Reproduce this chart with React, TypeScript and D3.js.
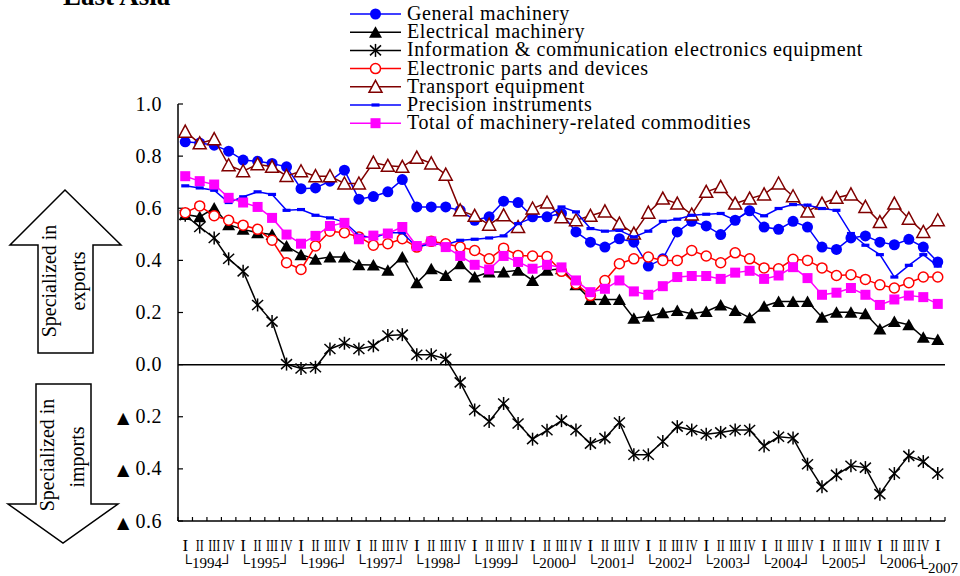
import React from "react";
import * as d3 from "d3";

const years = [1994, 1995, 1996, 1997, 1998, 1999, 2000, 2001, 2002, 2003, 2004, 2005, 2006, 2007];
const quarterLabels = ["I", "II", "III", "IV"];
const periods: { year: number; q: number }[] = years.flatMap((y) =>
  y === 2007 ? [{ year: y, q: 0 }] : quarterLabels.map((_, q) => ({ year: y, q }))
);

const generalMachinery = [0.855,0.85,0.842,0.819,0.785,0.78,0.772,0.759,0.675,0.678,0.704,0.746,0.635,0.645,0.663,0.71,0.605,0.605,0.605,0.592,0.554,0.567,0.627,0.622,0.567,0.567,0.58,0.509,0.47,0.451,0.483,0.47,0.378,0.406,0.509,0.55,0.532,0.499,0.554,0.59,0.528,0.519,0.55,0.528,0.451,0.442,0.486,0.494,0.47,0.46,0.481,0.451,0.394];
const electricalMachinery = [0.576,0.567,0.601,0.537,0.519,0.506,0.499,0.455,0.422,0.404,0.413,0.413,0.383,0.382,0.362,0.413,0.314,0.368,0.342,0.387,0.336,0.355,0.355,0.362,0.323,0.362,0.368,0.306,0.25,0.25,0.25,0.178,0.186,0.199,0.208,0.195,0.204,0.229,0.208,0.18,0.224,0.242,0.242,0.242,0.182,0.201,0.201,0.195,0.137,0.165,0.153,0.105,0.096];
const infoComm = [0.573,0.528,0.486,0.406,0.358,0.229,0.165,0.002,-0.015,-0.01,0.06,0.082,0.06,0.072,0.112,0.115,0.038,0.038,0.022,-0.068,-0.174,-0.218,-0.149,-0.226,-0.286,-0.252,-0.215,-0.251,-0.303,-0.282,-0.222,-0.346,-0.346,-0.295,-0.238,-0.251,-0.267,-0.26,-0.251,-0.251,-0.312,-0.277,-0.282,-0.382,-0.469,-0.423,-0.388,-0.395,-0.497,-0.418,-0.35,-0.372,-0.418];
const electronicParts = [0.583,0.609,0.571,0.554,0.535,0.519,0.477,0.391,0.365,0.455,0.512,0.506,0.49,0.458,0.464,0.483,0.451,0.473,0.464,0.451,0.438,0.406,0.447,0.419,0.417,0.415,0.358,0.31,0.265,0.323,0.387,0.406,0.413,0.4,0.4,0.438,0.417,0.391,0.429,0.406,0.371,0.368,0.404,0.4,0.371,0.342,0.345,0.327,0.306,0.294,0.314,0.336,0.336];
const transportEquipment = [0.894,0.849,0.865,0.765,0.742,0.769,0.759,0.724,0.742,0.723,0.723,0.695,0.695,0.775,0.763,0.759,0.794,0.772,0.729,0.592,0.571,0.537,0.573,0.528,0.599,0.622,0.565,0.554,0.571,0.588,0.541,0.503,0.583,0.637,0.618,0.576,0.663,0.682,0.618,0.637,0.653,0.695,0.646,0.588,0.618,0.64,0.653,0.605,0.547,0.618,0.56,0.509,0.554];
const precisionInstruments = [0.686,0.678,0.669,0.622,0.644,0.663,0.653,0.592,0.595,0.573,0.563,0.547,0.496,0.486,0.506,0.506,0.451,0.464,0.46,0.477,0.481,0.486,0.494,0.541,0.563,0.571,0.605,0.586,0.522,0.512,0.515,0.49,0.512,0.55,0.558,0.573,0.577,0.58,0.554,0.592,0.571,0.599,0.614,0.612,0.599,0.592,0.503,0.458,0.422,0.336,0.381,0.422,0.378];
const totalMachinery = [0.723,0.704,0.691,0.64,0.622,0.605,0.563,0.499,0.464,0.494,0.532,0.544,0.481,0.495,0.503,0.528,0.455,0.473,0.451,0.417,0.383,0.365,0.417,0.394,0.368,0.383,0.373,0.323,0.278,0.291,0.323,0.281,0.268,0.301,0.336,0.34,0.34,0.329,0.353,0.36,0.329,0.342,0.374,0.332,0.268,0.276,0.294,0.268,0.229,0.25,0.265,0.259,0.233];

const seriesNames = [
  "General machinery",
  "Electrical machinery",
  "Information & communication electronics equipment",
  "Electronic parts and devices",
  "Transport equipment",
  "Precision instruments",
  "Total of machinery-related commodities",
];
const seriesValues = [generalMachinery, electricalMachinery, infoComm, electronicParts, transportEquipment, precisionInstruments, totalMachinery];
const seriesColors = ["#0000FF", "#000000", "#000000", "#FF0000", "#800000", "#0000FF", "#FF00FF"];
const seriesMarkers = ["circle", "triangle", "star", "openCircle", "openTriangle", "dash", "square"];
const yTicks = [-0.6, -0.4, -0.2, 0, 0.2, 0.4, 0.6, 0.8, 1.0];

const FONT = "Liberation Serif, Times New Roman, serif";

function Marker({ type, x, y, color }: { type: string; x: number; y: number; color: string }) {
  switch (type) {
    case "circle":
      return <circle cx={x} cy={y} r={5.5} fill={color} />;
    case "openCircle":
      return <circle cx={x} cy={y} r={5} fill="#fff" stroke={color} strokeWidth={1.5} />;
    case "triangle":
      return <path d={`M${x},${y - 6}L${x + 6.5},${y + 5.5}L${x - 6.5},${y + 5.5}Z`} fill={color} />;
    case "openTriangle":
      return <path d={`M${x},${y - 6.5}L${x + 6.5},${y + 5.5}L${x - 6.5},${y + 5.5}Z`} fill="#fff" stroke={color} strokeWidth={1.5} />;
    case "square":
      return <rect x={x - 5} y={y - 5} width={10} height={10} fill={color} />;
    case "dash":
      return <rect x={x - 4} y={y - 1.6} width={8} height={3.2} fill={color} />;
    case "star":
      return (
        <g stroke={color} strokeWidth={1.5}>
          <line x1={x} y1={y - 6.5} x2={x} y2={y + 6.5} />
          <line x1={x - 5.5} y1={y - 5} x2={x + 5.5} y2={y + 5} />
          <line x1={x - 5.5} y1={y + 5} x2={x + 5.5} y2={y - 5} />
        </g>
      );
    default:
      return null;
  }
}

export default function App() {
  const left = 178, right = 945, top = 104, bottom = 521;
  const x = d3.scaleBand<number>().domain(periods.map((_, i) => i)).range([left, right]);
  const bw = x.bandwidth();
  const px = (i: number) => (x(i) as number) + bw / 2;
  const y = d3.scaleLinear().domain([-0.6, 1.0]).range([bottom, top]);
  const line = d3.line<number>().x((_, i) => px(i)).y((d) => y(d));

  const tickXs = d3.range(periods.length + 1).map((k) => left + k * bw);

  const qWidths = [3, 8, 12, 12];

  return (
    <div style={{ position: "fixed", left: 0, top: 0 }}>
      <svg width={960} height={576} style={{ display: "block", background: "#fff", fontFamily: FONT }}>
        {/* Title */}
        <text x={63} y={5} fontSize={27} fontWeight="bold">East Asia</text>

        {/* Arrows */}
        <path d="M65,190 L121,245 L93,245 L93,353 L38,353 L38,245 L10,245 Z" fill="#fff" stroke="#000" strokeWidth={1.5} />
        <path d="M36,384 L91,384 L91,504 L118,504 L63,543 L8,504 L36,504 Z" fill="#fff" stroke="#000" strokeWidth={1.5} />
        <g fontSize={20} textAnchor="middle">
          <text transform="rotate(-90)" x={-281} y={56}>Specialized in</text>
          <text transform="rotate(-90)" x={-281} y={85}>exports</text>
          <text transform="rotate(-90)" x={-455} y={54}>Specialized in</text>
          <text transform="rotate(-90)" x={-457} y={84}>imports</text>
        </g>

        {/* Y axis */}
        <line x1={left} y1={top} x2={left} y2={bottom} stroke="#000" strokeWidth={1.5} />
        {yTicks.map((t) => (
          <g key={t}>
            <line x1={left} x2={left + 5} y1={y(t)} y2={y(t)} stroke="#000" strokeWidth={1.2} />
            <text x={162} y={y(t) + 6.5} fontSize={20} textAnchor="end" letterSpacing={0.5}>
              {t < 0 ? <tspan style={{ fontFamily: "DejaVu Sans" }} fontSize={16}>▲ </tspan> : null}
              {Math.abs(t).toFixed(1)}
            </text>
          </g>
        ))}

        {/* X axis */}
        <line x1={left} y1={bottom} x2={right} y2={bottom} stroke="#000" strokeWidth={1.5} />
        {tickXs.map((tx, k) => (
          <line key={k} x1={tx} x2={tx} y1={bottom} y2={bottom - 4} stroke="#000" strokeWidth={1.2} />
        ))}
        {periods.map((p, i) => (
          <text key={i} x={px(i)} y={551} fontSize={17} textAnchor="middle"
            textLength={p.q > 0 ? qWidths[p.q] : undefined} lengthAdjust="spacingAndGlyphs">
            {quarterLabels[p.q]}
          </text>
        ))}
        {years.filter((yr) => yr !== 2007).map((yr) => {
          const idx = periods.findIndex((p) => p.year === yr);
          const cx = (px(idx) + px(idx + 3)) / 2;
          return (
            <text key={yr} x={cx} y={568} fontSize={15} textAnchor="middle">
              {`└${yr}┘`}
            </text>
          );
        })}
        <text x={958} y={573} fontSize={15} textAnchor="end">{"└2007"}</text>

        {/* Zero line */}
        <line x1={left} x2={right} y1={y(0)} y2={y(0)} stroke="#000" strokeWidth={1.5} />

        {/* Series */}
        {seriesValues.map((vals, s) => (
          <g key={s}>
            <path d={line(vals) || ""} fill="none" stroke={seriesColors[s]} strokeWidth={1.5} />
            {vals.map((v, i) => (
              <Marker key={i} type={seriesMarkers[s]} x={px(i)} y={y(v)} color={seriesColors[s]} />
            ))}
          </g>
        ))}

        {/* Legend */}
        {seriesNames.map((name, s) => {
          const ly = 14 + s * 18.2;
          return (
            <g key={name}>
              <line x1={350} x2={401} y1={ly} y2={ly} stroke={seriesColors[s]} strokeWidth={1.5} />
              <Marker type={seriesMarkers[s]} x={375.5} y={ly} color={seriesColors[s]} />
              <text x={407} y={ly + 6} fontSize={20} letterSpacing={0.6}>{name}</text>
            </g>
          );
        })}
      </svg>
    </div>
  );
}
